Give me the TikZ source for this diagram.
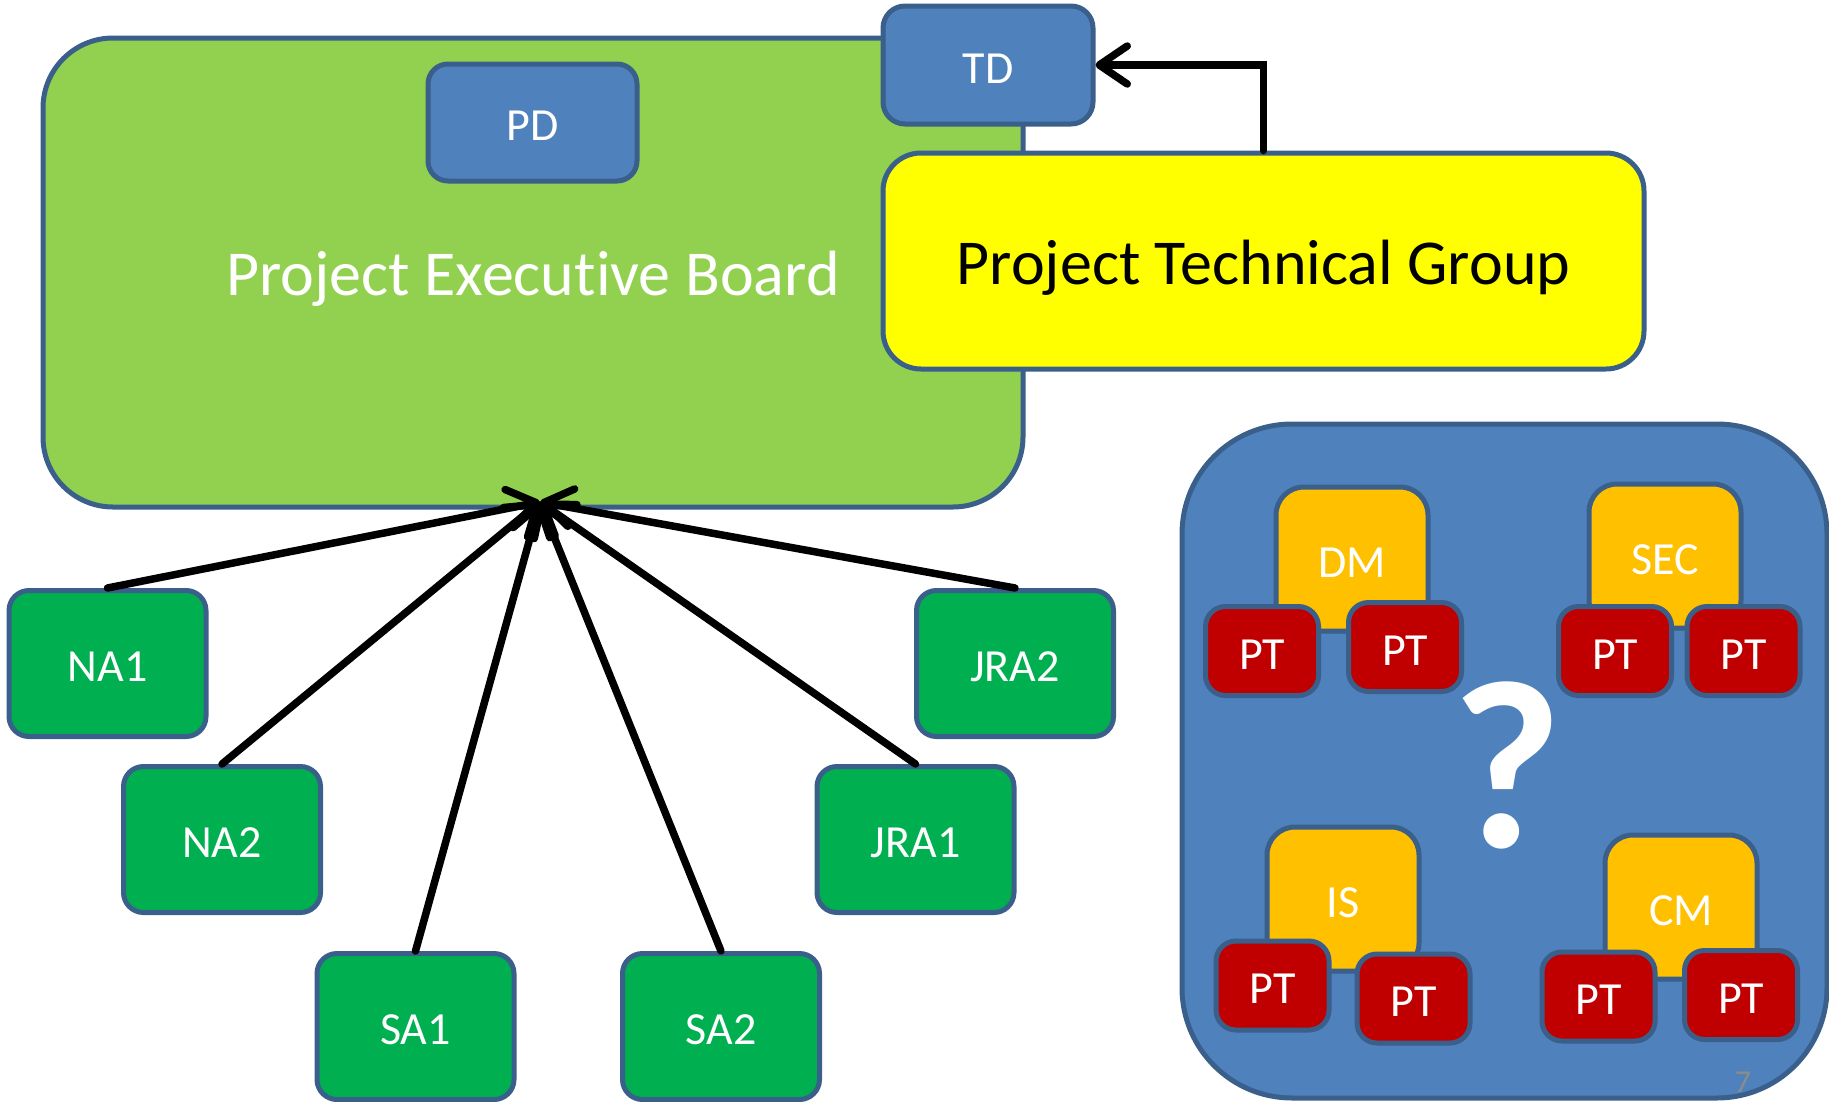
\documentclass[tikz,border=0pt]{standalone}
\usepackage{fontspec}
\setmainfont{Carlito}[Ligatures=NoCommon]
\usetikzlibrary{arrows.meta}
\definecolor{edge}{HTML}{3A5F8B}
\definecolor{boardgreen}{HTML}{92D050}
\definecolor{steel}{HTML}{4F81BD}
\definecolor{wpgreen}{HTML}{00B050}
\definecolor{amber}{HTML}{FFC000}
\definecolor{ptred}{HTML}{C00000}
\definecolor{groupyellow}{HTML}{FFFF00}
\definecolor{pagenum}{HTML}{8C8C8C}

\begin{document}
\begin{tikzpicture}[x=1pt,y=-1pt,
  box/.style={draw=edge, line width=5pt, inner sep=0pt, align=center,
    text=white, font=\fontsize{46}{55}\selectfont, text height=36pt, text depth=0pt},
  bigbox/.style={box, font=\fontsize{64}{76}\selectfont, text height=46pt, text depth=0pt},
  wpbox/.style={box, fill=wpgreen, minimum width=197pt, minimum height=146pt, rounded corners=20pt},
  taskbox/.style={box, fill=amber, minimum width=152pt, minimum height=144pt, rounded corners=28pt},
  ptbox/.style={box, fill=ptred, minimum width=113pt, minimum height=89pt, rounded corners=20pt},
  link/.style={draw=black, line width=7.5pt, line cap=round,
    -{Straight Barb[length=28pt,width=38pt,round]}}
]
\useasboundingbox (0,0) rectangle (1829,1101);

% executive board with the project director
\node[bigbox, fill=boardgreen, minimum width=980pt, minimum height=469pt, rounded corners=70pt]
  (peb) at (533,272.5) {Project Executive Board};
\node[box, fill=steel, minimum width=209pt, minimum height=117pt, rounded corners=20pt] (pd) at (532.5,122.5) {PD};

% technical group and technical director
\node[bigbox, fill=groupyellow, minimum width=761pt, minimum height=216pt, rounded corners=38pt,
  text=black] (ptg) at (1263.5,261) {Project Technical Group};
\node[box, fill=steel, minimum width=210pt, minimum height=118pt, rounded corners=22pt] (td) at (988,65) {TD};
\draw[link] (ptg.north) |- (td.east);

% work packages reporting to the board
\coordinate (hub) at (540,502);
\node[wpbox] (na1) at (107.5,663.5) {NA1};
\node[wpbox] (na2) at (222,839.5) {NA2};
\node[wpbox] (sa1) at (415.5,1026.5) {SA1};
\node[wpbox] (sa2) at (721,1026.5) {SA2};
\node[wpbox] (jra1) at (915.5,839.5) {JRA1};
\node[wpbox] (jra2) at (1015,663.5) {JRA2};
\foreach \n in {na1,na2,sa1,sa2,jra1,jra2}
  \draw[link] (\n.north) -- (hub);

% open question: task forces and their project teams
\node[box, fill=steel, minimum width=645pt, minimum height=674pt, rounded corners=110pt] (pool) at (1504.5,761) {};

\node[taskbox] (dm) at (1352,559) {DM};
\node[ptbox] (dm1) at (1262,651) {PT};
\node[ptbox] (dm2) at (1405,647) {PT};

\node[taskbox] (sec) at (1665,556) {SEC};
\node[ptbox] (sec1) at (1615,651) {PT};
\node[ptbox] (sec2) at (1743.5,651) {PT};

\node[taskbox] (is) at (1343,899) {IS};
\node[ptbox] (is1) at (1272.5,985.5) {PT};
\node[ptbox] (is2) at (1413.5,998.5) {PT};

\node[taskbox] (cm) at (1681,907) {CM};
\node[ptbox] (cm1) at (1598.5,996.5) {PT};
\node[ptbox] (cm2) at (1741,995) {PT};

\node[inner sep=0pt, text=white, font=\fontsize{240}{240}\bfseries\selectfont] (quest) at (1507,765) {?};
\node[inner sep=0pt, text=pagenum, font=\fontsize{32}{36}\selectfont] (pgno) at (1743,1082) {7};
\end{tikzpicture}
\end{document}
